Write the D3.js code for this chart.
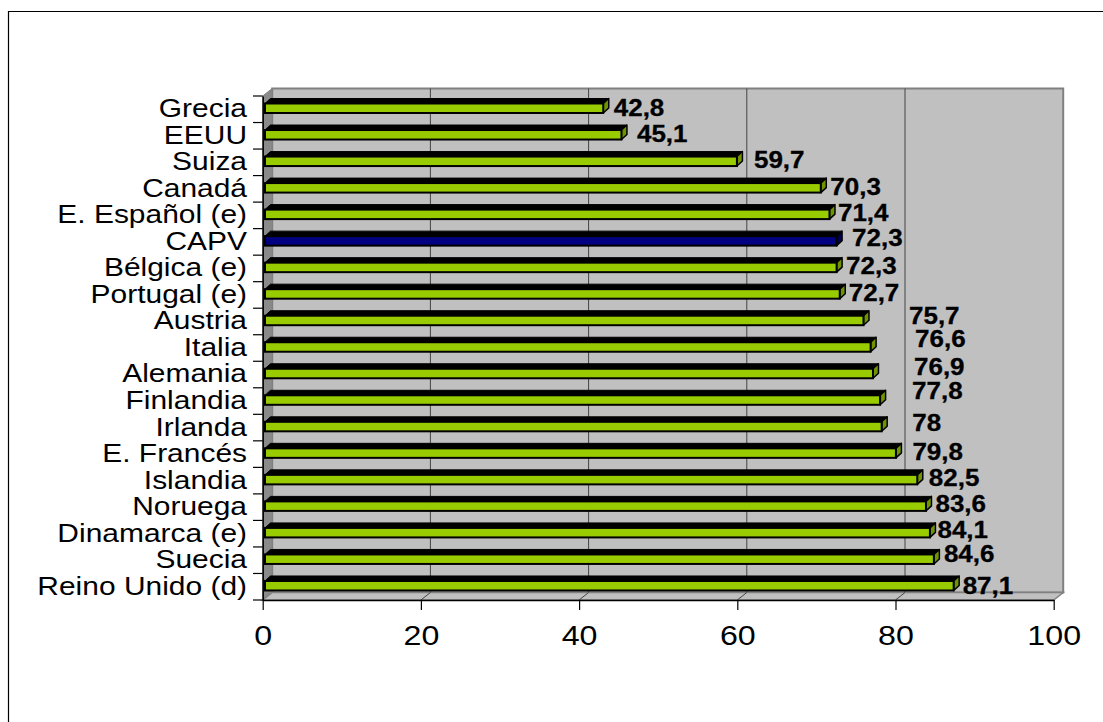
<!DOCTYPE html>
<html>
<head>
<meta charset="utf-8">
<script src="https://cdn.jsdelivr.net/npm/d3@7"></script>
<style>
  html, body { margin: 0; padding: 0; background: #fff; }
  svg { display: block; }
</style>
</head>
<body>
<svg id="chart" width="1103" height="722"></svg>
<script>
// Categories, top to bottom
const categories = [
  "Grecia", "EEUU", "Suiza", "Canadá", "E. Español (e)", "CAPV",
  "Bélgica (e)", "Portugal (e)", "Austria", "Italia", "Alemania",
  "Finlandia", "Irlanda", "E. Francés", "Islandia", "Noruega",
  "Dinamarca (e)", "Suecia", "Reino Unido (d)"
];
const values = [
  42.8, 45.1, 59.7, 70.3, 71.4, 72.3,
  72.3, 72.7, 75.7, 76.6, 76.9,
  77.8, 78, 79.8, 82.5, 83.6,
  84.1, 84.6, 87.1
];
const highlighted = "CAPV";
const tickValues = [0, 20, 40, 60, 80, 100];

// Per-label nudges [dx, dy] in px, relative to the bar end / bar centre
const labelNudges = [
  [5, -0.8], [10, -1.1], [11.5, -1.3], [4, -1.2], [3, -1.4], [10, -2.9],
  [4, -2.1], [3.5, -1.2], [40, -4.5], [39, -8], [35.5, -6.6],
  [26.5, -9], [25, -4], [11, -1.4], [6, -1.6], [4, -2.4],
  [2, -2.7], [4.5, -5.5], [3.5, -0.3]
];

const FONT = "Arial, 'Liberation Sans', Helvetica, sans-serif";
const SX = 1.13;            // horizontal stretch of the chart text
const DX = 9.5, DY = -7.5;  // 3-D depth offset of the back wall
const GREEN = "#99cc00", GREEN_SIDE = "#6f9400";
const NAVY = "#000080", NAVY_SIDE = "#00004a";

const svg = d3.select("#chart");

const x = d3.scaleLinear().domain([0, 100]).range([262.7, 1053.7]);
const y = d3.scaleBand().domain(categories).range([96, 600]);
const [yTop, yBot] = y.range();
const fmt = v => String(v).replace(".", ",");

// Outer chart frame
svg.append("path")
  .attr("d", "M8.5,722V11.5H1103")
  .attr("fill", "none")
  .attr("stroke", "#000")
  .attr("stroke-width", 1.2);

// Back wall
svg.append("rect")
  .attr("x", x(0) + DX).attr("y", yTop + DY)
  .attr("width", x(100) - x(0)).attr("height", yBot - yTop)
  .attr("fill", "#c0c0c0")
  .attr("stroke", "#808080").attr("stroke-width", 2);

// Vertical gridlines on the back wall
svg.append("g").selectAll("line")
  .data(tickValues.filter(v => v > 0 && v < 100))
  .join("line")
  .attr("x1", d => x(d) + DX).attr("x2", d => x(d) + DX)
  .attr("y1", yTop + DY).attr("y2", yBot + DY)
  .attr("stroke", "#444").attr("stroke-width", 1);

// Left side wall
svg.append("polygon")
  .attr("points", [
    [x(0), yTop], [x(0) + DX, yTop + DY],
    [x(0) + DX, yBot + DY], [x(0), yBot]
  ].join(" "))
  .attr("fill", "#8a8a8a")
  .attr("stroke", "#808080").attr("stroke-width", 1);

// Floor
svg.append("polygon")
  .attr("points", [
    [x(0), yBot], [x(0) + DX, yBot + DY],
    [x(100) + DX, yBot + DY], [x(100), yBot]
  ].join(" "))
  .attr("fill", "#c0c0c0")
  .attr("stroke", "#808080").attr("stroke-width", 1.5);

// Gridline traces across the floor
svg.append("g").selectAll("line")
  .data(tickValues.filter(v => v > 0 && v < 100))
  .join("line")
  .attr("x1", d => x(d)).attr("y1", yBot)
  .attr("x2", d => x(d) + DX).attr("y2", yBot + DY)
  .attr("stroke", "#444").attr("stroke-width", 1);

// 3-D bars
const OX = 5.5, OY = -5;
const bars = svg.append("g").selectAll("g")
  .data(categories.map((c, i) => ({ c, v: values[i], i })))
  .join("g");

bars.each(function (d) {
  const g = d3.select(this);
  const bt = y(d.c);
  const x0 = x(0) + 2.3, x1 = x(d.v) + 2;
  const ft = bt + 7.5, fb = bt + 17;
  const hi = d.c === highlighted;
  // top face
  g.append("polygon")
    .attr("points", [[x0, ft], [x0 + OX, ft + OY], [x1 + OX, ft + OY], [x1, ft]].join(" "))
    .attr("fill", "#000").attr("stroke", "#000").attr("stroke-width", 1);
  // end face
  g.append("polygon")
    .attr("points", [[x1, ft], [x1 + OX, ft + OY], [x1 + OX, fb + OY], [x1, fb]].join(" "))
    .attr("fill", hi ? NAVY_SIDE : GREEN_SIDE)
    .attr("stroke", "#000").attr("stroke-width", 1.5).attr("stroke-linejoin", "round");
  // front face
  g.append("rect")
    .attr("x", x0).attr("y", ft)
    .attr("width", x1 - x0).attr("height", fb - ft)
    .attr("fill", hi ? NAVY : GREEN)
    .attr("stroke", "#000").attr("stroke-width", 2);
});

// Bottom value axis
const xAxis = svg.append("g")
  .attr("transform", `translate(0,${yBot})`)
  .call(d3.axisBottom(x).tickValues(tickValues).tickSize(10).tickSizeOuter(0).tickPadding(15));
xAxis.attr("font-family", FONT).attr("font-size", 28.5);
xAxis.select(".domain").attr("stroke", "#000").attr("stroke-width", 1.5);
xAxis.selectAll(".tick line").attr("stroke", "#000").attr("stroke-width", 1.2);
xAxis.selectAll(".tick text")
  .attr("fill", "#000")
  .attr("transform", `scale(${SX},1)`);

// Left category axis (labels centred on bands, ticks on band boundaries)
const PAD = 15.7;
const yAxis = svg.append("g")
  .attr("transform", `translate(${x(0)},0)`)
  .call(d3.axisLeft(y).tickSize(0).tickSizeOuter(0).tickPadding(PAD));
yAxis.attr("font-family", FONT).attr("font-size", 26.5);
yAxis.select(".domain").attr("stroke", "#000").attr("stroke-width", 1.5);
yAxis.selectAll(".tick text")
  .attr("fill", "#000")
  .attr("x", -PAD / SX)
  .attr("dy", "0.30em")
  .attr("transform", `scale(${SX},1)`);

yAxis.append("g").selectAll("line")
  .data(d3.range(categories.length + 1))
  .join("line")
  .attr("x1", -9.7).attr("x2", 0)
  .attr("y1", i => yTop + i * y.step()).attr("y2", i => yTop + i * y.step())
  .attr("stroke", "#000").attr("stroke-width", 1.2);

// Value labels
svg.append("g").selectAll("text")
  .data(categories.map((c, i) => ({ c, v: values[i], i })))
  .join("text")
  .attr("transform", d => {
    const [dx, dy] = labelNudges[d.i];
    const xe = x(d.v) + 2 + OX + dx;
    const yc = y(d.c) + 12.25 + dy + 8.3;
    return `translate(${xe},${yc}) scale(${SX},1)`;
  })
  .attr("font-family", FONT)
  .attr("font-size", 23)
  .attr("font-weight", "bold")
  .attr("fill", "#000")
  .attr("stroke", "#000").attr("stroke-width", 0.3)
  .text(d => fmt(d.v));
</script>
</body>
</html>
